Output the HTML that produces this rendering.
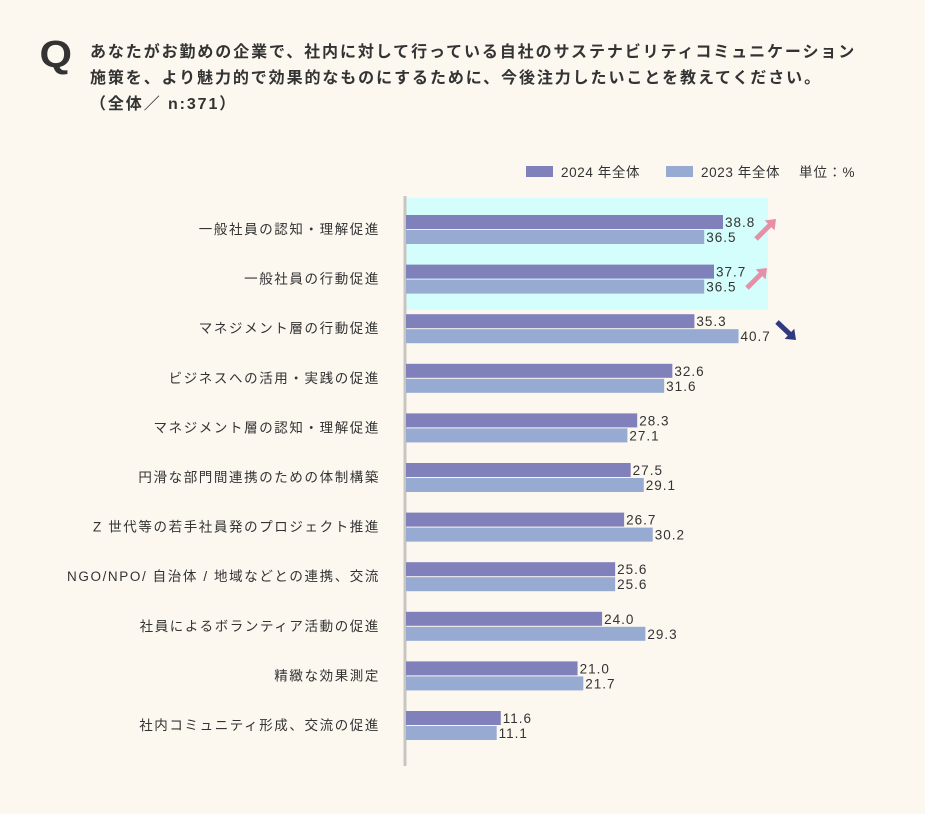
<!DOCTYPE html>
<html><head><meta charset="utf-8">
<style>
body{margin:0;width:925px;height:814px;background:#fcf8f0;font-family:"Liberation Sans","Noto Sans CJK JP",sans-serif;color:#333;overflow:hidden;position:relative}
.q{position:absolute;left:41px;top:34px;font-size:38px;font-weight:900;color:#333;transform:scaleX(1.1)}
.qt{position:absolute;left:90px;top:40px;font-size:16px;line-height:26px;font-weight:bold;color:#333;letter-spacing:1.9px}
</style></head><body>
<div class="q">Q</div>
<div class="qt">あなたがお勤めの企業で、社内に対して行っている自社のサステナビリティコミュニケーション<br>施策を、より魅力的で効果的なものにするために、今後注力したいことを教えてください。<br>（全体／ n:371）</div>
<svg id="chart" width="925" height="814" style="position:absolute;left:0;top:0"></svg>
<script>
const categories=["一般社員の認知・理解促進","一般社員の行動促進","マネジメント層の行動促進","ビジネスへの活用・実践の促進","マネジメント層の認知・理解促進","円滑な部門間連携のための体制構築","Z 世代等の若手社員発のプロジェクト推進","NGO/NPO/ 自治体 / 地域などとの連携、交流","社員によるボランティア活動の促進","精緻な効果測定","社内コミュニティ形成、交流の促進"];
const values2024=[38.8,37.7,35.3,32.6,28.3,27.5,26.7,25.6,24.0,21.0,11.6];
const values2023=[36.5,36.5,40.7,31.6,27.1,29.1,30.2,25.6,29.3,21.7,11.1];
const labels2024=["38.8","37.7","35.3","32.6","28.3","27.5","26.7","25.6","24.0","21.0","11.6"];
const labels2023=["36.5","36.5","40.7","31.6","27.1","29.1","30.2","25.6","29.3","21.7","11.1"];
const NS="http://www.w3.org/2000/svg";
const svg=document.getElementById('chart');
const x0=406,k=8.17,y0=215,step=49.6,bh=14;
const xs=v=>x0+v*k;
const ys=i=>y0+i*step;
function mk(t,a){const e=document.createElementNS(NS,t);for(const n in a)e.setAttribute(n,a[n]);svg.appendChild(e);return e;}
let hl=mk('rect',{x:406,y:198,width:362,height:112,fill:'#d4fefb'});


let ax=mk('line',{x1:405,y1:196,x2:405,y2:766,stroke:'#c8c4bf','stroke-width':3});


categories.forEach((c,i)=>{
  const y=ys(i);
  let t=mk('text',{x:380,y:y+19,'text-anchor':'end','font-size':13.5,fill:'#333','letter-spacing':'1.6'});t.textContent=c;
  
  
  let b1=mk('rect',{x:x0,y:y,width:xs(values2024[i])-x0,height:bh,fill:'#8080bb'});
  
  
  let b2=mk('rect',{x:x0,y:y+bh+1,width:xs(values2023[i])-x0,height:bh,fill:'#97aad2'});
  
  
  let l1=mk('text',{x:xs(values2024[i])+2,y:y+12,'font-size':13.5,fill:'#333','letter-spacing':'1'});l1.textContent=labels2024[i];
  
  
  let l2=mk('text',{x:xs(values2023[i])+2,y:y+bh+13,'font-size':13.5,fill:'#333','letter-spacing':'1'});l2.textContent=labels2023[i];
  
  
});
function arrow(x1,y1,x2,y2,col,name){
  const g=document.createElementNS(NS,'g');svg.appendChild(g);
  
  
  const ang=Math.atan2(y2-y1,x2-x1),h=9;
  const l=document.createElementNS(NS,'line');
  [['x1',x1],['y1',y1],['x2',x2-Math.cos(ang)*6],['y2',y2-Math.sin(ang)*6],['stroke',col],['stroke-width',5]].forEach(a=>l.setAttribute(a[0],a[1]));g.appendChild(l);
  const p=document.createElementNS(NS,'polygon');
  const bx=x2-Math.cos(ang)*h,by=y2-Math.sin(ang)*h,px=-Math.sin(ang)*7,py=Math.cos(ang)*7;
  p.setAttribute('points',`${x2},${y2} ${bx+px},${by+py} ${bx-px},${by-py}`);p.setAttribute('fill',col);g.appendChild(p);
}
arrow(756,239,776,219,'#e88fa8','arrow-up-1');
arrow(747,288,767,268,'#e88fa8','arrow-up-2');
arrow(777,322,796,340,'#2f3b7e','arrow-down');
// legend
let lg1=mk('rect',{x:526,y:166,width:27,height:11,fill:'#8080bb'});


let lt1=mk('text',{x:561,y:177,'font-size':13.5,fill:'#333','letter-spacing':'0.6'});lt1.textContent='2024 年全体';


let lg2=mk('rect',{x:666,y:166,width:27,height:11,fill:'#97aad2'});


let lt2=mk('text',{x:701,y:177,'font-size':13.5,fill:'#333','letter-spacing':'0.6'});lt2.textContent='2023 年全体';


let un=mk('text',{x:799,y:177,'font-size':13.5,fill:'#333','letter-spacing':'1'});un.textContent='単位：%';


</script>
</body></html>
